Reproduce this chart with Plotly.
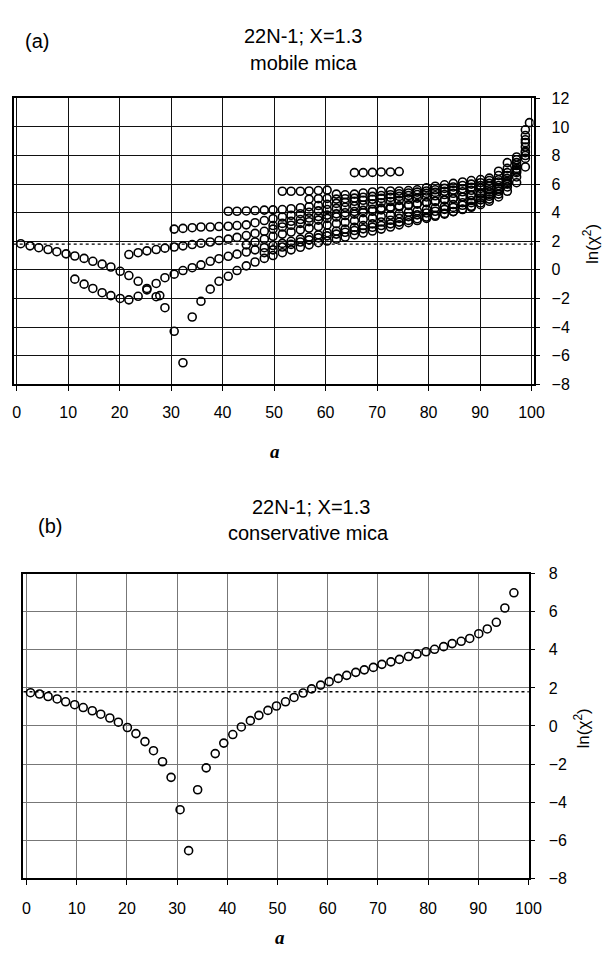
import plotly.graph_objects as go

# ---------------- data ----------------
# common grid of the parameter a
A_GRID = [0.8, 2.6, 4.3, 6.1, 7.8, 9.6, 11.3, 13.1, 14.8, 16.6, 18.3, 20.1, 21.8, 23.6,
          25.3, 27.1, 28.8, 30.6, 32.3, 34.1, 35.8, 37.6, 39.3, 41.1, 42.8, 44.6, 46.3,
          48.1, 49.8, 51.6, 53.3, 55.1, 56.8, 58.6, 60.3, 62.1, 63.8, 65.6, 67.3, 69.1,
          70.8, 72.6, 74.3, 76.1, 77.8, 79.6, 81.3, 83.1, 84.8, 86.6, 88.3, 90.1, 91.8,
          93.6, 95.3, 97.1, 98.8]

# (b) conservative mica
B_CURVE = [1.75, 1.68, 1.55, 1.42, 1.27, 1.12, 0.97, 0.8, 0.62, 0.42, 0.2, -0.08, -0.4,
           -0.82, -1.3, -1.88, -2.7, -4.4, -6.55, -3.35, -2.2, -1.45, -0.9, -0.45, -0.05,
           0.28, 0.56, 0.82, 1.05, 1.27, 1.5, 1.73, 1.95, 2.15, 2.33, 2.5, 2.66, 2.82, 2.95,
           3.08, 3.24, 3.37, 3.5, 3.65, 3.78, 3.9, 4.03, 4.17, 4.33, 4.45, 4.6, 4.85, 5.1,
           5.45, 6.2, 7.0]

# (a) mobile mica : several families, each starting at a grid position
A_S1 = [1.83, 1.68, 1.55, 1.42, 1.27, 1.12, 0.97, 0.8, 0.6, 0.4, 0.2, -0.1, -0.4,
        -0.8, -1.3, -1.88, -2.65, -4.3, -6.5, -3.3, -2.2, -1.35, -0.8, -0.45, -0.05,
        0.28, 0.55, 0.8, 1.0, 1.2, 1.4, 1.58, 1.75, 1.9, 2.02, 2.15, 2.3, 2.45, 2.58,
        2.72, 2.85, 3.0, 3.15, 3.3, 3.45, 3.6, 3.75, 3.9, 4.07, 4.25, 4.45, 4.68, 4.95,
        5.3, 5.8, 6.5, 7.8]
A_S2_START = 11.3
A_S2 = [-0.65, -1.0, -1.3, -1.6, -1.8, -2.0, -2.1, -1.85, -1.4, -0.95, -0.55, -0.3,
        -0.05, 0.15, 0.35, 0.6, 0.78, 0.95, 1.1, 1.25, 1.4, 1.55, 1.7, 1.85, 2.0, 2.15,
        2.3, 2.45, 2.6, 2.72, 2.85, 2.97, 3.1, 3.22, 3.35, 3.47, 3.6, 3.72, 3.85, 3.98,
        4.1, 4.23, 4.37, 4.52, 4.7, 4.9, 5.15, 5.5, 6.0, 6.8, 8.3]
A_S3_START = 21.8
A_S3 = [1.07, 1.2, 1.33, 1.42, 1.52, 1.6, 1.68, 1.77, 1.86, 1.95, 2.05, 2.15, 2.27, 2.4,
        2.55, 2.7, 2.85, 3.0, 3.12, 3.25, 3.37, 3.48, 3.6, 3.7, 3.8, 3.9, 4.0, 4.1, 4.2,
        4.3, 4.4, 4.5, 4.6, 4.7, 4.8, 4.9, 5.0, 5.12, 5.25, 5.4, 5.6, 5.9, 6.4, 7.1, 8.6]
A_S4_START = 30.6
A_S4 = [2.85, 2.9, 2.95, 3.0, 3.0, 3.03, 3.05, 3.1, 3.15, 3.3, 3.45, 3.58, 3.7, 3.82,
        3.93, 4.03, 4.13, 4.22, 4.3, 4.38, 4.46, 4.54, 4.62, 4.7, 4.78, 4.86, 4.94, 5.02,
        5.1, 5.18, 5.27, 5.36, 5.46, 5.57, 5.7, 5.87, 6.15, 6.6, 7.3, 8.9]
A_S5_START = 41.1
A_S5 = [4.1, 4.1, 4.12, 4.15, 4.18, 4.2, 4.22, 4.28, 4.35, 4.42, 4.5, 4.58, 4.65, 4.72,
        4.8, 4.87, 4.94, 5.0, 5.07, 5.14, 5.2, 5.27, 5.35, 5.42, 5.5, 5.58, 5.68, 5.78,
        5.9, 6.05, 6.3, 6.8, 7.5, 9.1]
A_S6_START = 51.6
A_S6 = [5.5, 5.5, 5.5, 5.52, 5.55, 5.58, 5.3, 5.25, 5.3, 5.38, 5.45, 5.5, 5.52, 5.52,
        5.55, 5.6, 5.75, 5.85, 5.95, 6.05, 6.15, 6.25, 6.32, 6.42, 6.9, 7.5, 7.9, 9.4]
A_S7_START = 65.6
A_S7 = [6.8, 6.8, 6.82, 6.85, 6.85, 6.88]
A_S8_START = 44.6
A_S8 = [1.75, 1.95, 2.15, 2.35, 2.5, 2.65, 2.8, 2.92, 3.03, 3.13, 3.23, 3.33, 3.43,
        3.53, 3.63, 3.73, 3.83, 3.93, 4.03, 4.13, 4.23, 4.34, 4.45, 4.57, 4.7, 4.85,
        5.03, 5.28, 5.65, 6.2, 7.0, 8.0]
A_S9_START = 56.8
A_S9 = [4.95, 4.98, 5.0, 4.95, 4.98, 5.02, 5.08, 5.14, 5.2, 5.26, 5.32, 5.38, 5.44,
        5.52, 5.6, 5.7, 5.8, 5.9, 6.0, 6.1, 6.25, 6.6, 7.1, 7.7, 9.8]
A_S10_START = 48.1
A_S10 = [1.2, 1.4, 1.6, 1.78, 1.95, 2.1, 2.24, 2.38, 2.5, 2.63, 2.75, 2.87, 2.98, 3.1,
         3.22, 3.34, 3.46, 3.58, 3.7, 3.82, 3.95, 4.08, 4.22, 4.38, 4.56, 4.8, 5.1, 5.5,
         6.1, 7.2]
A_S11_START = 49.8
A_S11 = [3.1, 3.25, 3.4, 3.52, 3.63, 3.73, 3.83, 3.92, 4.0, 4.08, 4.16, 4.24, 4.32, 4.4,
         4.48, 4.56, 4.64, 4.72, 4.8, 4.89, 4.98, 5.08, 5.18, 5.3, 5.45, 5.7, 6.1, 6.9,
         8.2]
A_EXTRA_A = [27.8, 99.6]
A_EXTRA_V = [-1.8, 10.3]

THRESHOLD = 1.8  # dotted reference level of ln(chi^2)

X_TICKS = [0, 10, 20, 30, 40, 50, 60, 70, 80, 90, 100]
Y_TICKS_A = [-8, -6, -4, -2, 0, 2, 4, 6, 8, 10, 12]
Y_TICKS_B = [-8, -6, -4, -2, 0, 2, 4, 6, 8]

TITLE_1 = "22N-1; X=1.3"
SUB_A = "mobile mica"
SUB_B = "conservative mica"

# ---------------- figure ----------------
W, H = 615, 955
FONT = "Liberation Sans, Arial, sans-serif"

def px_x(p):
    return p / W

def px_y(p):
    return 1 - p / H

def grid_from(start):
    i = A_GRID.index(start)
    return A_GRID[i:]

marker = dict(symbol="circle-open", size=8, color="black", line=dict(width=1.6, color="black"))

fig = go.Figure()

series_a = [
    (A_GRID, A_S1),
    (grid_from(A_S2_START), A_S2),
    (grid_from(A_S3_START), A_S3),
    (grid_from(A_S4_START), A_S4),
    (grid_from(A_S5_START), A_S5),
    (grid_from(A_S6_START), A_S6),
    (grid_from(A_S7_START), A_S7),
    (grid_from(A_S8_START), A_S8),
    (grid_from(A_S9_START), A_S9),
    (grid_from(A_S10_START), A_S10),
    (grid_from(A_S11_START), A_S11),
    (A_EXTRA_A, A_EXTRA_V),
]
for xs, ys in series_a:
    n = min(len(xs), len(ys))
    fig.add_trace(go.Scatter(x=xs[:n], y=ys[:n], mode="markers", marker=marker,
                             xaxis="x", yaxis="y", showlegend=False, hoverinfo="skip"))

nb = len(B_CURVE)
fig.add_trace(go.Scatter(x=A_GRID[:nb], y=B_CURVE, mode="markers", marker=marker,
                         xaxis="x2", yaxis="y2", showlegend=False, hoverinfo="skip"))

axis_common = dict(showline=True, mirror=True, linecolor="black", linewidth=1.5,
                   zeroline=False, tickfont=dict(family=FONT, size=16, color="black"),
                   ticks="outside", ticklen=5, tickcolor="black", tickwidth=1)

fig.update_layout(
    width=W, height=H,
    margin=dict(l=0, r=0, t=0, b=0),
    paper_bgcolor="white", plot_bgcolor="white",
    xaxis=dict(domain=[px_x(13), px_x(545)], range=[-0.57, 100.4], anchor="y",
               tickvals=X_TICKS, showgrid=True, gridcolor="#111", gridwidth=1,
               ticklabelstandoff=8, **axis_common),
    yaxis=dict(domain=[px_y(383), px_y(92)], range=[-8, 12], anchor="x", side="right",
               tickvals=Y_TICKS_A, showgrid=True, gridcolor="#111", gridwidth=1,
               ticklabelstandoff=8, **axis_common),
    xaxis2=dict(domain=[px_x(23), px_x(540)], range=[-0.6, 100.05], anchor="y2",
                tickvals=X_TICKS, showgrid=True, gridcolor="#777", gridwidth=1,
                ticklabelstandoff=10, **axis_common),
    yaxis2=dict(domain=[px_y(886), px_y(576)], range=[-8, 8], anchor="x2", side="right",
                tickvals=Y_TICKS_B, showgrid=True, gridcolor="#777", gridwidth=1,
                ticklabelstandoff=10, **axis_common),
)

for xr, yr in (("x", "y"), ("x2", "y2")):
    fig.add_shape(type="line", xref=f"{xr} domain", yref=yr, x0=0, x1=1,
                  y0=THRESHOLD, y1=THRESHOLD, line=dict(color="black", width=1.4, dash="dot"))

def ann(text, x, y, size=20, angle=0, family=FONT):
    fig.add_annotation(text=text, x=px_x(x), y=px_y(y), xref="paper", yref="paper",
                       showarrow=False, textangle=angle, xanchor="center", yanchor="middle",
                       font=dict(family=family, size=size, color="black"))

ann("(a)", 37, 34)
ann(TITLE_1, 309, 28)
ann(SUB_A, 310, 56)
ann("ln(χ<sup>2</sup>)", 603, 240, size=17, angle=-90)
ann("<b><i>a</i></b>", 280, 452, size=19, family="Liberation Serif, Times New Roman, serif")

ann("(b)", 50, 527)
ann(TITLE_1, 317, 508)
ann(SUB_B, 315, 535)
ann("ln(χ<sup>2</sup>)", 594, 733, size=17, angle=-90)
ann("<b><i>a</i></b>", 286, 946, size=19, family="Liberation Serif, Times New Roman, serif")

fig.write_html("out.html")
